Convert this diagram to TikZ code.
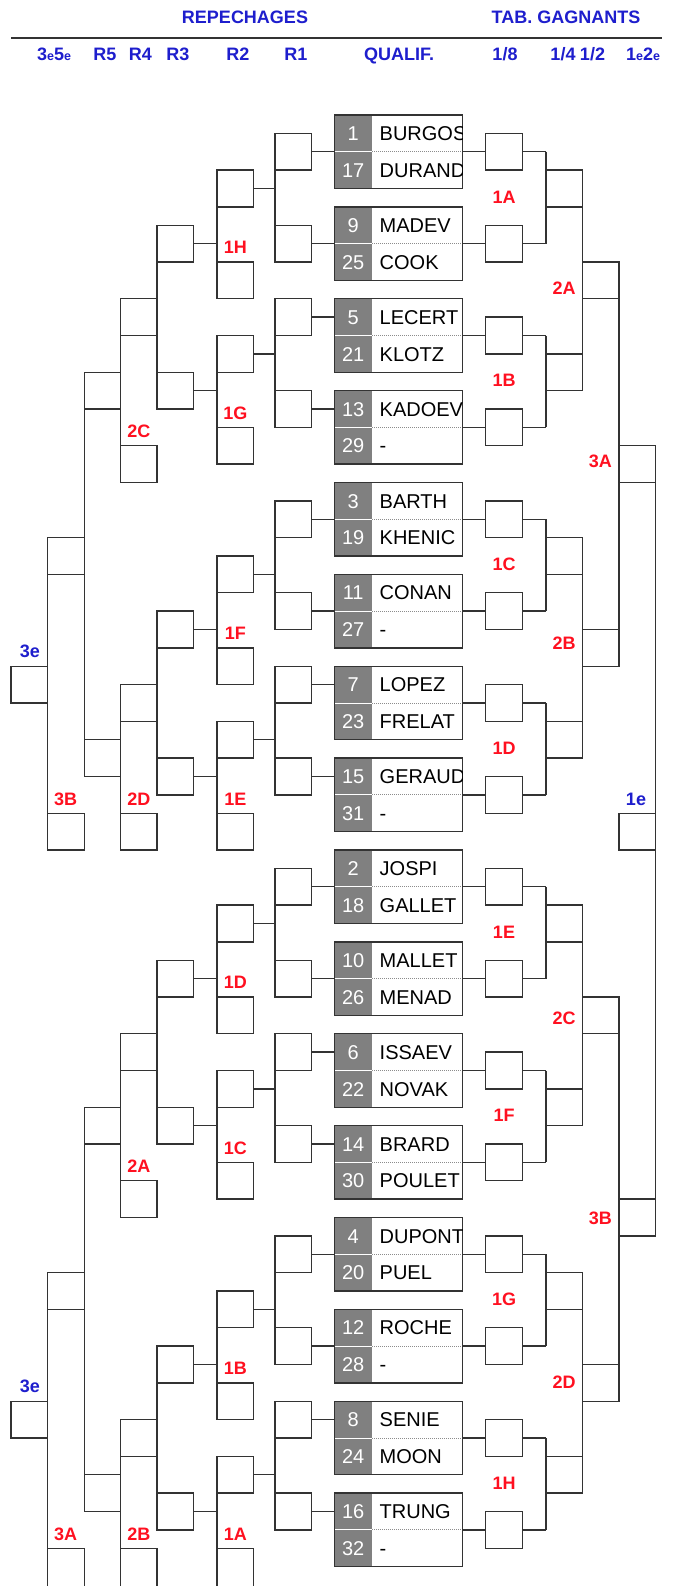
\documentclass[tikz,border=0pt]{standalone}
\usepackage{fontspec}
\setmainfont{Liberation Sans}
\definecolor{ink}{HTML}{333333}
\definecolor{cellgray}{HTML}{808080}
\definecolor{hblue}{HTML}{1E1ECD}
\definecolor{lred}{HTML}{FF1020}
\definecolor{dotgray}{HTML}{8C8C8C}
\newcommand\smalle{{\fontsize{12.5}{12.5}\selectfont e}}
\tikzset{
  ln/.style={draw=ink, line width=1.3pt},
  hdr/.style={font=\fontsize{18}{18}\selectfont\bfseries, text=hblue, inner sep=0pt, text height=12.9pt, text depth=0pt},
  lab/.style={font=\fontsize{18}{18}\selectfont\bfseries, text=lred, inner sep=0pt, text height=12.9pt, text depth=0pt},
  blab/.style={font=\fontsize{18}{18}\selectfont\bfseries, text=hblue, inner sep=0pt, text height=12.9pt, text depth=0pt},
  nm/.style={font=\fontsize{20}{20}\selectfont, text=black, inner sep=0pt, anchor=west, text height=14.3pt, text depth=0pt},
  nbr/.style={font=\fontsize{20}{20}\selectfont, text=white, inner sep=0pt, text height=14.3pt, text depth=0pt},
}
\begin{document}
\begin{tikzpicture}[x=1pt,y=-1pt]
\path[use as bounding box, fill=white] (0,0) rectangle (674,1586);
% header
\node[hdr] (hrep) at (245,17) {REPECHAGES};
\node[hdr] (htab) at (566,17) {TAB. GAGNANTS};
\draw[draw=ink, line width=2pt] (11,38.5) -- (662,38.5);
\node[hdr, anchor=west] (h35) at (37,54) {3\smalle 5\smalle};
\node[hdr] (hr5) at (105,54) {R5};
\node[hdr] (hr4) at (140.5,54) {R4};
\node[hdr] (hr3) at (178,54) {R3};
\node[hdr] (hr2) at (238,54) {R2};
\node[hdr] (hr1) at (296,54) {R1};
\node[hdr] (hq) at (399,54) {QUALIF.};
\node[hdr] (h8) at (505,54) {1/8};
\node[hdr] (h4) at (563,54) {1/4};
\node[hdr] (h2) at (592.5,54) {1/2};
\node[hdr, anchor=west] (h12) at (626,54) {1\smalle 2\smalle};

\begin{scope}[yshift=-115pt, x=1pt, y=-18.375pt]
% ---------------- qualification boxes
\foreach \kk/\ia/\sa/\ib/\sb in {0/1/BURGOS/17/DURAND, 1/9/MADEV/25/COOK, 2/5/LECERT/21/KLOTZ, 3/13/KADOEV/29/-,
  4/3/BARTH/19/KHENIC, 5/11/CONAN/27/-, 6/7/LOPEZ/23/FRELAT, 7/15/GERAUD/31/-,
  8/2/JOSPI/18/GALLET, 9/10/MALLET/26/MENAD, 10/6/ISSAEV/22/NOVAK, 11/14/BRARD/30/POULET,
  12/4/DUPONT/20/PUEL, 13/12/ROCHE/28/-, 14/8/SENIE/24/MOON, 15/16/TRUNG/32/-}{
  \pgfmathsetmacro\rt{5*\kk}
  \fill[cellgray] (334.3,\rt) rectangle (372,{\rt+4});
  \draw[white, line width=1pt] (334.3,{\rt+2}) -- (372,{\rt+2});
  \draw[dotgray, line width=0.8pt, dash pattern=on 1pt off 1pt] (372,{\rt+2}) -- (462.7,{\rt+2});
  \draw[ln] (334.3,\rt) rectangle (462.7,{\rt+4});
  \node[nbr] (na\kk) at (353.2,{\rt+1}) {\ia};
  \node[nbr] (nb\kk) at (353.2,{\rt+3}) {\ib};
  \begin{scope}
    \clip (372,\rt) rectangle (462,{\rt+4});
    \node[nm] (sa\kk) at (379.5,{\rt+1}) {\sa};
    \node[nm] (sb\kk) at (379.5,{\rt+3}) {\sb};
  \end{scope}
}
% ---------------- winners' side
\foreach \kk in {0,...,15}{
  \pgfmathsetmacro\rc{5*\kk+2}
  \draw[ln] (462.7,\rc) -- (485.7,\rc);
  \draw[ln] (485.7,{\rc-1}) rectangle (522.3,{\rc+1});
  \draw[ln] (522.3,\rc) -- (546,\rc);
}
\foreach \jj in {0,...,7}{
  \pgfmathsetmacro\rc{10*\jj}
  \draw[ln] (546,{\rc+2}) -- (546,{\rc+7});
  \draw[ln] (546,{\rc+3}) rectangle (582.5,{\rc+5});
}
\foreach \ii in {0,...,3}{
  \pgfmathsetmacro\rc{20*\ii}
  \draw[ln] (582.5,{\rc+3}) -- (582.5,{\rc+15});
  \draw[ln] (582.5,{\rc+8}) rectangle (619,{\rc+10});
}
\draw[ln] (619,8) -- (619,30);
\draw[ln] (619,48) -- (619,70);
\draw[ln] (619,18) rectangle (655.7,20);
\draw[ln] (619,59) rectangle (655.7,61);
\draw[ln] (655.7,18) -- (655.7,61);
\draw[ln] (619,38) rectangle (655.7,40);
% winners' labels
\foreach \jj/\tx in {0/1A,1/1B,2/1C,3/1D,4/1E,5/1F,6/1G,7/1H}{
  \node[lab] (w\tx) at (504,{10*\jj+4.45}) {\tx};
}
\node[lab] (w2A) at (564,9.43) {2A};
\node[lab] (w2B) at (564,28.75) {2B};
\node[lab] (w2C) at (564,49.16) {2C};
\node[lab] (w2D) at (564,68.93) {2D};
\node[lab] (w3A) at (600.3,18.85) {3A};
\node[lab] (w3B) at (600.3,60.05) {3B};
\node[blab] (w1e) at (636,37.2) {1e};
% ---------------- repechages side
\foreach \b/\hh in {0/2, 40/2.35}{
  \foreach \t in {1,6,10,15,21,26,30,35}{
    \draw[ln] (275,{\b+\t}) rectangle (311.7,{\b+\t+2});
    \draw[ln] (311.7,{\b+\t+1}) -- (334.3,{\b+\t+1});
  }
  \foreach \u/\v in {3/6,12/15,23/26,32/35} \draw[ln] (275,{\b+\u}) -- (275,{\b+\v});
  \foreach \t in {3,12,24,33}{
    \draw[ln] (217,{\b+\t}) rectangle (253.7,{\b+\t+2});
    \draw[ln] (253.7,{\b+\t+1}) -- (275,{\b+\t+1});
  }
  \foreach \t in {8,17,29}{ \draw[ln] (217,{\b+\t}) rectangle (253.7,{\b+\t+2}); }
  \draw[ln] (217,{\b+38}) rectangle (253.7,{\b+38+\hh});
  \foreach \u/\v in {5/8,14/17,26/29,35/38} \draw[ln] (217,{\b+\u}) -- (217,{\b+\v});
  \foreach \t in {6,14,27,35}{
    \draw[ln] (157,{\b+\t}) rectangle (193.7,{\b+\t+2});
    \draw[ln] (193.7,{\b+\t+1}) -- (217,{\b+\t+1});
  }
  \foreach \u/\v in {8/14,29/35} \draw[ln] (157,{\b+\u}) -- (157,{\b+\v});
  \foreach \t in {10,31,18}{ \draw[ln] (120.5,{\b+\t}) rectangle (157,{\b+\t+2}); }
  \draw[ln] (120.5,{\b+38}) rectangle (157,{\b+38+\hh});
  \foreach \u/\v in {12/18,33/38} \draw[ln] (120.5,{\b+\u}) -- (120.5,{\b+\v});
  \foreach \t in {14,34}{ \draw[ln] (84.3,{\b+\t}) rectangle (120.5,{\b+\t+2}); }
  \draw[ln] (84.3,{\b+16}) -- (84.3,{\b+34});
  \draw[ln] (47.7,{\b+23}) rectangle (84.3,{\b+25});
  \draw[ln] (47.7,{\b+25}) -- (47.7,{\b+38});
  \draw[ln] (11,{\b+30}) rectangle (47.7,{\b+32});
  \draw[ln] (47.7,{\b+38}) rectangle (84.3,{\b+38+\hh});
}
% repechage labels
\foreach \tx/\r in {1H/8,1G/17,1F/29,1E/38,1D/48,1C/57,1B/69,1A/78}{
  \node[lab] (rf\tx) at (235.3,{\r-0.8}) {\tx};
}
\foreach \tx/\r in {2C/18,2D/38,2A/58,2B/78}{
  \node[lab] (rd\tx) at (138.8,{\r-0.8}) {\tx};
}
\node[lab] (rb3B) at (65.7,37.2) {3B};
\node[lab] (rb3A) at (65.7,77.2) {3A};
\node[blab] (ra3e) at (30,29.15) {3e};
\node[blab] (rb3e) at (30,69.15) {3e};
\end{scope}
\end{tikzpicture}
\end{document}
